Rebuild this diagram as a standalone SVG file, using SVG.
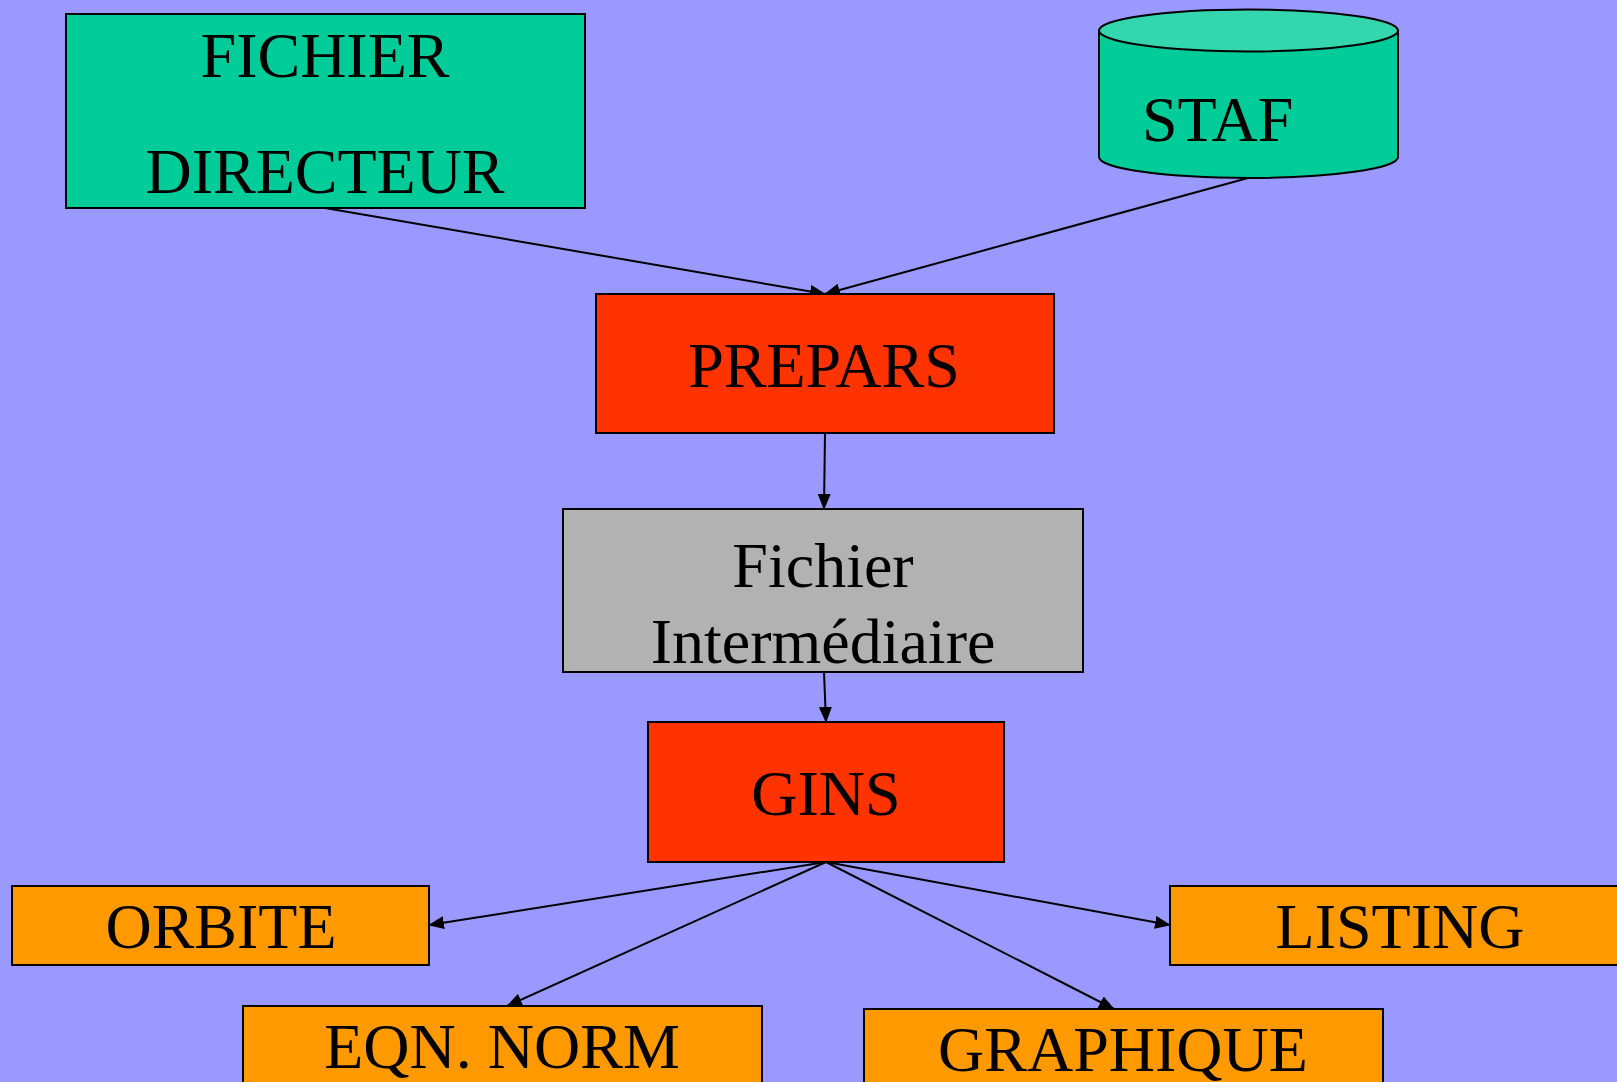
<svg xmlns="http://www.w3.org/2000/svg" width="1617" height="1082" viewBox="0 0 1617 1082">
<style>
.box{stroke:#000;stroke-width:2}
.t{font-family:"Liberation Serif","Times New Roman",serif;font-size:64px;fill:#000;text-anchor:middle}
.c{stroke:#000;stroke-width:2;fill:none;marker-end:url(#ah)}
</style>
<defs>
<marker id="ah" markerWidth="16" markerHeight="13" refX="15" refY="6.5" orient="auto" markerUnits="userSpaceOnUse">
<path d="M0,0 L16,6.5 L0,13 Z" fill="#000"/>
</marker>
</defs>
<rect width="1617" height="1082" fill="#9999FF"/>
<g id="connectors">
<line class="c" x1="325" y1="208" x2="825" y2="294"/>
<line class="c" x1="1248" y1="178" x2="825" y2="294"/>
<line class="c" x1="825" y1="433" x2="824" y2="509"/>
<line class="c" x1="824" y1="672" x2="826" y2="722"/>
<line class="c" x1="826" y1="862" x2="429" y2="925"/>
<line class="c" x1="826" y1="862" x2="507" y2="1006"/>
<line class="c" x1="826" y1="862" x2="1170" y2="925"/>
<line class="c" x1="826" y1="862" x2="1114" y2="1009"/>
</g>
<g id="fichier-directeur">
<rect class="box" x="66" y="14" width="519" height="194" fill="#00CC99"/>
<text class="t" x="325" y="77">FICHIER</text>
<text class="t" x="325" y="193">DIRECTEUR</text>
</g>
<g id="staf">
<path class="box" d="M1099,30.5 L1099,157 A149.5,21 0 0 0 1398,157 L1398,30.5 Z" fill="#00CC99"/>
<ellipse class="box" cx="1248.5" cy="30.5" rx="149.5" ry="21" fill="#33D6AD"/>
<text class="t" x="1142" y="141" style="text-anchor:start">STAF</text>
</g>
<g id="prepars">
<rect class="box" x="596" y="294" width="458" height="139" fill="#FF3300"/>
<text class="t" x="824" y="387">PREPARS</text>
</g>
<g id="fichier-intermediaire">
<rect class="box" x="563" y="509" width="520" height="163" fill="#B2B2B2"/>
<text class="t" x="823" y="587">Fichier</text>
<text class="t" x="823" y="663">Intermédiaire</text>
</g>
<g id="gins">
<rect class="box" x="648" y="722" width="356" height="140" fill="#FF3300"/>
<text class="t" x="826" y="815">GINS</text>
</g>
<g id="orbite">
<rect class="box" x="12" y="886" width="417" height="79" fill="#FF9900"/>
<text class="t" x="221" y="948">ORBITE</text>
</g>
<g id="eqn-norm">
<rect class="box" x="243" y="1006" width="519" height="90" fill="#FF9900"/>
<text class="t" x="502" y="1068">EQN. NORM</text>
</g>
<g id="listing">
<rect class="box" x="1170" y="886" width="460" height="79" fill="#FF9900"/>
<text class="t" x="1400" y="948">LISTING</text>
</g>
<g id="graphique">
<rect class="box" x="864" y="1009" width="519" height="90" fill="#FF9900"/>
<text class="t" x="1123" y="1071">GRAPHIQUE</text>
</g>
</svg>
